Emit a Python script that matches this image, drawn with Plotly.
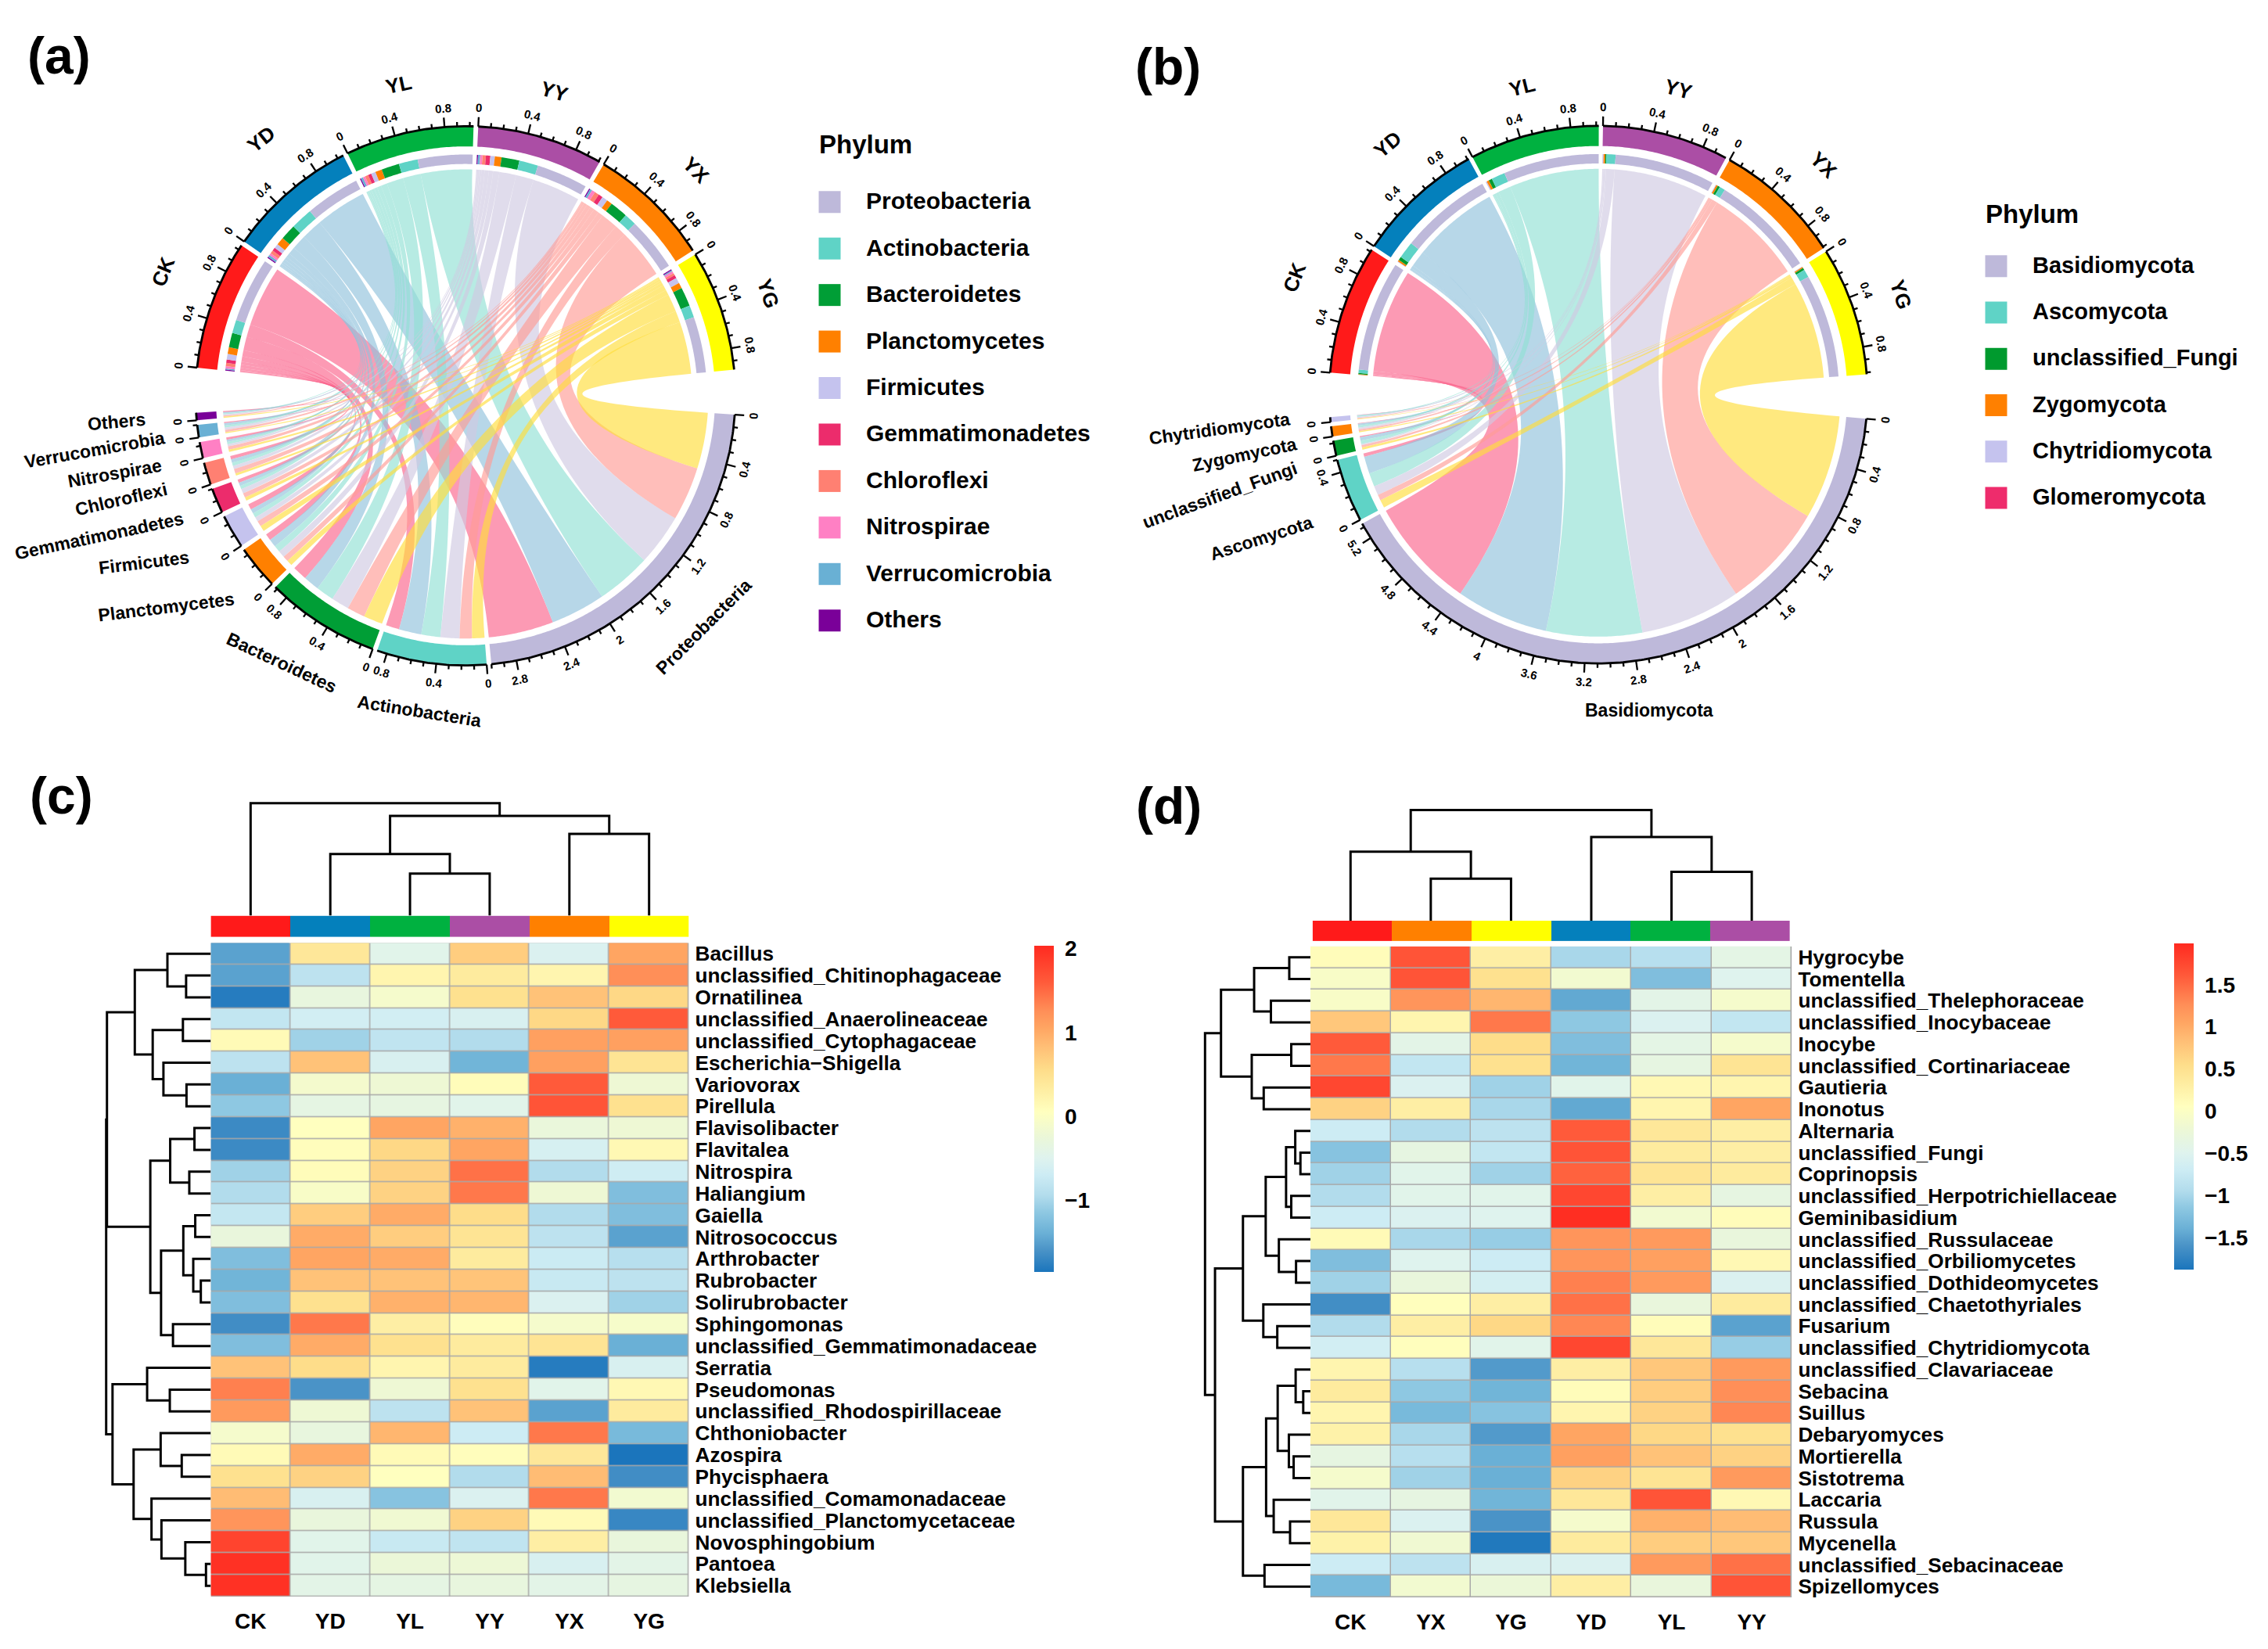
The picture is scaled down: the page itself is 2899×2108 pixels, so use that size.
import math
import plotly.graph_objects as go

W, H = 2899, 2108
FONT = "Liberation Sans"

# ---------- chord data ----------
SAMPLES = ["CK", "YD", "YL", "YY", "YX", "YG"]
SAMPLE_COLORS = ["#FF1A1A", "#0480BC", "#00B140", "#AB4EA5", "#FF8000", "#FFFF00"]
LINK_COLORS = ["rgba(250,100,140,.65)", "rgba(144,193,220,.65)", "rgba(144,224,212,.65)",
               "rgba(207,201,226,.65)", "rgba(255,155,149,.65)", "rgba(255,221,58,.65)"]

PHYLA_A = ["Proteobacteria", "Actinobacteria", "Bacteroidetes", "Planctomycetes", "Firmicutes",
           "Gemmatimonadetes", "Chloroflexi", "Nitrospirae", "Verrucomicrobia", "Others"]
PHYLA_A_COLORS = ["#BEB9DA", "#5FD3C6", "#009E36", "#FF8000", "#C5C3EE",
                  "#EC2C6C", "#FF8072", "#FF80C4", "#69B0D4", "#7A0099"]
A_CK = [.58, .12, .13, .06, .05, .03, .03, .02, .01, .01]
A_YD = [.49, .20, .14, .07, .04, .03, .03, .02, .02, .01]
A_YL = [.49, .17, .16, .06, .04, .03, .03, .02, .02, .01]
A_YY = [.46, .17, .16, .06, .04, .04, .03, .02, .02, .01]
A_YX = [.48, .11, .16, .05, .05, .04, .04, .03, .02, .01]
A_YG = [.50, .11, .17, .05, .05, .03, .02, .02, .01, .01]

PHYLA_B = ["Basidiomycota", "Ascomycota", "unclassified_Fungi", "Zygomycota", "Chytridiomycota"]
PHYLA_B_COLORS = ["#BEB9DA", "#5FD3C6", "#009A2E", "#FF8000", "#C5C3EE"]
LEGEND_B = PHYLA_B + ["Glomeromycota"]
LEGEND_B_COLORS = PHYLA_B_COLORS + ["#EE2C6C"]
B_CK = [.97, .03, .01, .005, .003]
B_YD = [.81, .15, .03, .015, .005]
B_YL = [.84, .12, .03, .02, .01]
B_YY = [.88, .08, .01, .015, .01]
B_YX = [.92, .05, .02, .015, .006]
B_YG = [.91, .07, .02, .01, .005]

# ---------- heatmap data ----------
ROWS_C = ["Bacillus", "unclassified_Chitinophagaceae", "Ornatilinea", "unclassified_Anaerolineaceae",
          "unclassified_Cytophagaceae", "Escherichia\u2212Shigella", "Variovorax", "Pirellula", "Flavisolibacter",
          "Flavitalea", "Nitrospira", "Haliangium", "Gaiella", "Nitrosococcus", "Arthrobacter", "Rubrobacter",
          "Solirubrobacter", "Sphingomonas", "unclassified_Gemmatimonadaceae", "Serratia", "Pseudomonas",
          "unclassified_Rhodospirillaceae", "Chthoniobacter", "Azospira", "Phycisphaera",
          "unclassified_Comamonadaceae", "unclassified_Planctomycetaceae", "Novosphingobium", "Pantoea", "Klebsiella"]
COLS_C = ["CK", "YD", "YL", "YY", "YX", "YG"]
Z_C = [
    [-1.5, .4, -.45, .7, -.55, 1.05],
    [-1.5, -.85, .2, .35, .2, 1.25],
    [-1.8, -.32, -.1, .5, .8, .6],
    [-.8, -.65, -.65, -.58, .6, 1.6],
    [.12, -1.05, -.82, -.95, 1.1, 1.1],
    [-.85, .8, -.58, -1.35, 1.1, .45],
    [-1.4, -.12, -.2, .1, 1.6, -.2],
    [-1.15, -.38, -.35, -.45, 1.65, .5],
    [-1.68, .05, 1.05, .95, -.28, -.2],
    [-1.68, .08, .6, 1.05, -.6, .15],
    [-1.05, .1, .65, 1.45, -.95, -.68],
    [-.95, -.05, .65, 1.4, -.2, -1.25],
    [-.78, .7, 1.0, .55, -.95, -1.25],
    [-.3, 1.0, .7, .45, -.85, -1.5],
    [-1.25, 1.05, 1.0, .35, -.72, -.9],
    [-1.35, .8, .8, .78, -.75, -.85],
    [-1.25, .5, .95, .9, -.55, -1.05],
    [-1.65, 1.4, .3, .08, -.1, -.08],
    [-1.25, 1.0, .5, .35, .45, -1.4],
    [.8, .55, .2, .35, -1.8, -.58],
    [1.35, -1.6, -.2, .5, -.45, .15],
    [1.15, -.2, -.85, .8, -1.5, .35],
    [-.1, -.32, .9, -.7, 1.4, -1.3],
    [.12, 1.0, .12, .08, .4, -1.86],
    [.5, .65, .05, -.95, .85, -1.65],
    [.85, -.58, -1.2, -.55, 1.4, -.15],
    [1.2, -.3, -.18, .65, .12, -1.7],
    [1.8, -.45, -.75, -.82, .3, -.3],
    [1.97, -.45, -.25, -.22, -.58, -.42],
    [1.97, -.42, -.38, -.32, -.42, -.35],
]
ROWS_D = ["Hygrocybe", "Tomentella", "unclassified_Thelephoraceae", "unclassified_Inocybaceae", "Inocybe",
          "unclassified_Cortinariaceae", "Gautieria", "Inonotus", "Alternaria", "unclassified_Fungi", "Coprinopsis",
          "unclassified_Herpotrichiellaceae", "Geminibasidium", "unclassified_Russulaceae",
          "unclassified_Orbiliomycetes", "unclassified_Dothideomycetes", "unclassified_Chaetothyriales", "Fusarium",
          "unclassified_Chytridiomycota", "unclassified_Clavariaceae", "Sebacina", "Suillus", "Debaryomyces",
          "Mortierella", "Sistotrema", "Laccaria", "Russula", "Mycenella", "unclassified_Sebacinaceae", "Spizellomyces"]
COLS_D = ["CK", "YX", "YG", "YD", "YL", "YY"]
Z_D = [
    [.1, 1.65, .3, -1.0, -.9, -.4],
    [-.05, 1.65, .5, -.15, -1.25, -.5],
    [-.05, 1.2, .9, -1.45, -.42, -.1],
    [.75, .2, 1.4, -1.15, -.55, -.8],
    [1.6, -.42, .55, -1.25, -.4, -.1],
    [1.4, -.8, .5, -1.35, -.35, .45],
    [1.75, -.55, -1.05, -.45, .15, .2],
    [.65, .3, -1.0, -1.45, .2, 1.05],
    [-.7, -.95, -.85, 1.6, .4, .3],
    [-1.2, -.35, -.8, 1.65, .35, .3],
    [-1.05, -.45, -1.05, 1.55, .45, .35],
    [-.95, -.45, -.45, 1.75, .3, -.35],
    [-.7, -.55, -.5, 1.95, -.15, .1],
    [.12, -1.0, -1.1, 1.2, 1.15, -.3],
    [-1.25, -.5, -.7, 1.2, 1.1, .15],
    [-1.05, -.3, -.62, 1.35, 1.15, -.55],
    [-1.65, .07, .3, 1.45, -.3, .35],
    [-.95, .3, .6, 1.3, .1, -1.5],
    [-.65, .07, -.45, 1.75, .4, -1.1],
    [.2, -.9, -1.55, .3, .75, 1.15],
    [.35, -1.15, -1.35, .1, .7, 1.25],
    [.2, -1.3, -1.2, .2, .65, 1.3],
    [.25, -1.0, -1.55, 1.05, .6, .5],
    [-.35, -.9, -1.4, 1.1, .8, .65],
    [-.1, -1.05, -1.4, .65, .45, 1.15],
    [-.45, -.35, -1.35, .4, 1.65, .15],
    [.4, -.55, -1.6, -.1, .95, .85],
    [.25, -.18, -1.85, .35, .7, .75],
    [-.7, -.85, -.58, -.55, 1.15, 1.45],
    [-1.3, -.15, -.25, .3, -.3, 1.65],
]
# dendrograms: (merge height, left, right); ints are leaf positions
TREE_C_COL = (403, 0, (358, (221, 1, (151, 2, 3)), (293, 4, 5)))
TREE_D_COL = (411, (256, 0, (156, 1, 2)), (311, 3, (181, 4, 5)))
TREE_C_ROW = (263,
    (261,
     (191, (109, 0, (62, 1, 2)), (146, (70, 3, 4), (119, 5, (61, 6, 7)))),
     (152, (102, (41, 8, 9), (54, 10, 11)),
      (125, (69, (39, 12, 13), (44, 14, (25, 15, 16))), (95, 17, 18)))),
    (247, (160, 19, (103, 20, 21)),
     (194, (126, 22, (73, 23, 24)), (149, 25, (124, 26, (64, 27, (12, 28, 29)))))))
TREE_D_ROW = (264,
    (224, (141, (53, 0, 1), (99, 2, 3)), (147, (48, 4, 5), (117, 6, 7))),
    (239,
     (169, (112, (61, (38, 8, (25, 9, 10)), (48, 11, 12)), (79, 13, (36, 14, 15))), (118, 16, (83, 17, 18))),
     (169, (111, (82, (37, 19, (18, 20, 21)), (54, 22, (42, 23, 24))), (92, 25, (51, 26, 27))), (115, 28, 29))))

COLOR_STOPS = [(2.03, "#FF2A20"), (1.6, "#FF5A3A"), (1.25, "#FF8F58"), (1.05, "#FFA562"), (.85, "#FFBC74"),
               (.55, "#FEDD8A"), (.35, "#FEEB9E"), (.05, "#FFFFBF"), (-.25, "#EBF7D8"), (-.5, "#DFF3EE"),
               (-.7, "#CDECF4"), (-.95, "#B2DCEC"), (-1.15, "#8EC8E2"), (-1.4, "#6AB0D6"), (-1.6, "#4A93C7"),
               (-1.89, "#1B75BC")]

# label placement for the sample names round the chord diagrams
SAMPLE_LABEL_SHIFT = [-2.4, -2.5, 0, 0, -1.4, 0]
SAMPLE_LABEL_RADIUS = [1.21, 1.215, 1.18, 1.175, 1.195, 1.185]

fig = go.Figure()
annots, shapes, layout_axes = [], [], {}
axis_n = [0]


def new_axes(x0, x1, y0, y1, xrange, yrange, xextra=None, yextra=None):
    """Axes pair occupying the given page pixels."""
    axis_n[0] += 1
    n = axis_n[0]
    s = "" if n == 1 else str(n)
    xa = dict(domain=[x0 / W, x1 / W], range=xrange, visible=False, anchor="y" + s, fixedrange=True,
              showgrid=False, zeroline=False)
    ya = dict(domain=[1 - y1 / H, 1 - y0 / H], range=yrange, visible=False, anchor="x" + s, fixedrange=True,
              showgrid=False, zeroline=False)
    if xextra:
        xa.update(xextra)
    if yextra:
        ya.update(yextra)
    layout_axes["xaxis" + s] = xa
    layout_axes["yaxis" + s] = ya
    return "x" + s, "y" + s


def text(x, y, s, size, rot=0, xref="paper", yref="paper", xanchor="center", weight="bold", color="black"):
    if xref == "paper":
        x, y = x / W, 1 - y / H
    annots.append(dict(x=x, y=y, xref=xref, yref=yref, text=s, showarrow=False, textangle=rot,
                       xanchor=xanchor, yanchor="middle",
                       font=dict(family=FONT, size=size, color=color, weight=weight)))


def pol(r, deg):
    a = math.radians(deg)
    return r * math.cos(a), r * math.sin(a)


def annulus(r0, r1, a0, a1, color, xa, ya):
    n = max(3, int(abs(a1 - a0) * 2))
    pts = [pol(r1, a0 + (a1 - a0) * i / n) for i in range(n + 1)]
    pts += [pol(r0, a1 + (a0 - a1) * i / n) for i in range(n + 1)]
    xs, ys = zip(*pts)
    fig.add_trace(go.Scatter(x=list(xs) + [xs[0]], y=list(ys) + [ys[0]], fill="toself", fillcolor=color, mode="none",
                             hoverinfo="skip", showlegend=False, xaxis=xa, yaxis=ya))


def ribbon(r_s, a0, a1, r_p, b0, b1, color, xa, ya):
    """a0->a1 clockwise on the sample side; b0->b1 clockwise on the phylum side; control point at the centre."""
    pts = []

    def arc(r, p, q):
        n = max(2, int(abs(q - p) * 2))
        pts.extend(pol(r, p + (q - p) * i / n) for i in range(n + 1))

    def bez(P, Q):
        for i in range(1, 40):
            t = i / 40
            pts.append(((1 - t) ** 2 * P[0] + t * t * Q[0], (1 - t) ** 2 * P[1] + t * t * Q[1]))

    arc(r_s, a0, a1)
    bez(pol(r_s, a1), pol(r_p, b0))
    arc(r_p, b0, b1)
    bez(pol(r_p, b1), pol(r_s, a0))
    xs, ys = zip(*pts)
    fig.add_trace(go.Scatter(x=list(xs) + [xs[0]], y=list(ys) + [ys[0]], fill="toself", fillcolor=color, mode="none",
                             hoverinfo="skip", showlegend=False, xaxis=xa, yaxis=ya))


def tick_rot(deg):
    d = (deg + 180) % 360 - 180
    return 90 - d if d >= 0 else -90 - d


def chord(cx, cy, R, matrix, phyla, phyla_colors, start, big_gap, gap, phylum_labels):
    ext = 1.4
    xa, ya = new_axes(cx - ext * R, cx + ext * R, cy - ext * R, cy + ext * R, [-ext, ext], [-ext, ext])
    s_tot = [sum(r) for r in matrix]
    p_tot = [sum(r[j] for r in matrix) for j in range(len(phyla))]
    n_gaps = len(s_tot) - 1 + len(p_tot) - 1
    per = (360 - 2 * big_gap - n_gaps * gap) / (sum(s_tot) + sum(p_tot))
    # sector start angles, clockwise
    s_start, p_start = [], []
    a = start
    for v in s_tot:
        s_start.append(a)
        a -= v * per + gap
    a += gap - big_gap
    for v in p_tot:
        p_start.append(a)
        a -= v * per + gap

    # phylum side: samples in reverse order, clockwise
    link_pos = {}
    for j in range(len(phyla)):
        q = p_start[j]
        for i in reversed(range(len(s_tot))):
            link_pos[(i, j)] = (q, q - matrix[i][j] * per)
            q -= matrix[i][j] * per
    for i in range(len(s_tot)):
        q = s_start[i]
        for j in reversed(range(len(phyla))):
            v = matrix[i][j] * per
            annulus(.86, .895, q, q - v, phyla_colors[j], xa, ya)
            b0, b1 = link_pos[(i, j)]
            ribbon(.84, q, q - v, .9, b0, b1, LINK_COLORS[i], xa, ya)
            q -= v

    # outer bands, axes, ticks
    lx, ly, tx, ty = [], [], [], []
    sectors = [(s_start[i], s_tot[i], SAMPLE_COLORS[i]) for i in range(len(s_tot))] + \
              [(p_start[j], p_tot[j], phyla_colors[j]) for j in range(len(phyla))]
    for st, tot, col in sectors:
        en = st - tot * per
        annulus(.925, 1.0, st, en, col, xa, ya)
        n = max(3, int(abs(en - st) * 2))
        for i in range(n + 1):
            x, y = pol(1.0, st + (en - st) * i / n)
            lx.append(x)
            ly.append(y)
        lx.append(None)
        ly.append(None)
        k = 0
        while k * .1 <= tot + 1e-9:
            deg = st - k * .1 * per
            major = k % 4 == 0
            x0, y0 = pol(1.0, deg)
            x1, y1 = pol(1.035 if major else 1.016, deg)
            tx += [x0, x1, None]
            ty += [y0, y1, None]
            if major:
                lab = "0" if k == 0 else f"{k * .1:.1f}".rstrip("0").rstrip(".")
                px, py = pol(1.07, deg)
                text(px, py, lab, 15, tick_rot(deg), xa, ya)
            k += 1
    fig.add_trace(go.Scatter(x=lx, y=ly, mode="lines", line=dict(color="black", width=2.8), hoverinfo="skip",
                             showlegend=False, xaxis=xa, yaxis=ya))
    fig.add_trace(go.Scatter(x=tx, y=ty, mode="lines", line=dict(color="black", width=2.3), hoverinfo="skip",
                             showlegend=False, xaxis=xa, yaxis=ya))
    # sample labels
    for i, name in enumerate(SAMPLES):
        deg = s_start[i] - s_tot[i] * per / 2 + SAMPLE_LABEL_SHIFT[i]
        px, py = pol(SAMPLE_LABEL_RADIUS[i], deg)
        text(px, py, name, 26, tick_rot(deg), xa, ya)
    for name, x, y, rot in phylum_labels:
        text(x, y, name, 23, rot)


def legend(x_sw, y0, dy, x_text, title_y, names, colors, title_size, size):
    xa, ya = new_axes(0, W, 0, H, [0, W], [H, 0])
    fig.add_trace(go.Scatter(x=[x_sw] * len(names), y=[y0 + dy * i for i in range(len(names))], mode="markers",
                             marker=dict(symbol="square", size=28, color=colors, line=dict(width=0)),
                             hoverinfo="skip", showlegend=False, xaxis=xa, yaxis=ya))
    text(x_sw - 16, title_y, "Phylum", title_size, xanchor="left")
    for i, n in enumerate(names):
        text(x_text, y0 + dy * i - 1.5, n, size, xanchor="left")


def tree_segments(node):
    """Returns centre, height and segment list of a dendrogram node."""
    if isinstance(node, int):
        return float(node), 0.0, []
    h, l, r = node
    cl, hl, sl = tree_segments(l)
    cr, hr, sr = tree_segments(r)
    seg = sl + sr + [((cl, hl), (cl, h), (cr, h), (cr, hr))]
    return (cl + cr) / 2, h, seg


def dendro(tree, xa, ya, horizontal):
    _, _, seg = tree_segments(tree)
    xs, ys = [], []
    for s in seg:
        for pos, h in s:
            xs.append(h if horizontal else pos)
            ys.append(pos if horizontal else h)
        xs.append(None)
        ys.append(None)
    fig.add_trace(go.Scatter(x=xs, y=ys, mode="lines", line=dict(color="black", width=3), cliponaxis=False,
                             hoverinfo="skip", showlegend=False, xaxis=xa, yaxis=ya))


def heat(x0, x1, y0, y1, bar_x0, bar_x1, bar_y0, bar_y1, dendro_top, dendro_left, Z, rows, cols, tree_col, tree_row,
         zmin, zmax, cb_x, cb_bottom, cb_len, cb_ticks, tick_size):
    cs = []
    for v, c in sorted(COLOR_STOPS):
        t = (v - zmin) / (zmax - zmin)
        cs.append([min(1, max(0, t)), c])
    cs[0][0], cs[-1][0] = 0, 1
    n = len(rows)
    m = len(cols)
    xa, ya = new_axes(x0, x1, y0, y1, [-.5, m - .5], [n - .5, -.5],
                      xextra=dict(visible=True, tickmode="array", tickvals=list(range(m)), ticktext=cols,
                                  ticks="", showline=False, ticklabelstandoff=12,
                                  tickfont=dict(family=FONT, size=28, color="black", weight="bold")),
                      yextra=dict(visible=True, side="right", tickmode="array", tickvals=list(range(n)), ticktext=rows,
                                  ticks="", showline=False, ticklabelstandoff=7,
                                  tickfont=dict(family=FONT, size=26.2, color="black", weight="bold")))
    shapes.append(dict(type="rect", xref=xa, yref=ya, x0=-.5, x1=m - .5, y0=-.5, y1=n - .5, layer="below",
                       fillcolor="#A9A9A9", line=dict(width=0)))
    fig.add_trace(go.Heatmap(z=Z, x=list(range(m)), y=list(range(n)), zmin=zmin, zmax=zmax, colorscale=cs, xgap=1.5,
                             ygap=1.5, hoverinfo="skip",
                             colorbar=dict(x=cb_x / W, xanchor="left", y=1 - cb_bottom / H, yanchor="bottom",
                                           lenmode="pixels", len=cb_len, thickness=25, thicknessmode="pixels",
                                           xpad=0, ypad=0, outlinewidth=0, ticks="outside", ticklen=9,
                                           tickcolor="rgba(0,0,0,0)", tickmode="array", tickvals=cb_ticks,
                                           tickfont=dict(family=FONT, size=tick_size, color="black", weight="bold")),
                             xaxis=xa, yaxis=ya))
    # annotation colour bar
    xb, yb = new_axes(bar_x0, bar_x1, bar_y0, bar_y1, [-.5, m - .5], [-.5, .5])
    idx = [SAMPLES.index(c) for c in cols]
    disc = []
    for k, c in enumerate(SAMPLE_COLORS):
        disc += [[k / 6, c], [(k + 1) / 6, c]]
    fig.add_trace(go.Heatmap(z=[idx], x=list(range(m)), y=[0], zmin=-.5, zmax=5.5, colorscale=disc, showscale=False,
                             hoverinfo="skip", xaxis=xb, yaxis=yb))
    # column dendrogram (a few spare pixels keep the root line from being clipped)
    pad = 6
    span = bar_y0 - dendro_top
    xt, yt = new_axes(x0, x1, dendro_top - pad, bar_y0, [-.5, m - .5], [0, tree_col[0] * (1 + pad / span)])
    dendro(tree_col, xt, yt, False)
    # row dendrogram
    span = x0 - dendro_left
    xl, yl = new_axes(dendro_left - pad, x0, y0, y1, [tree_row[0] * (1 + pad / span), 0], [n - .5, -.5])
    dendro(tree_row, xl, yl, True)


# ---------- panel a ----------
labels_a = [("Others", 148.7, 539, -5), ("Verrucomicrobia", 120.6, 574.5, -10), ("Nitrospirae", 146, 605, -10),
            ("Chloroflexi", 155.4, 638, -13), ("Gemmatimonadetes", 127, 685, -12), ("Firmicutes", 184, 719, -7),
            ("Planctomycetes", 212, 776, -7), ("Bacteroidetes", 360, 847, 25), ("Actinobacteria", 536, 909, 9),
            ("Proteobacteria", 899.5, 801, -45)]
chord(595, 505.5, 345, [A_CK, A_YD, A_YL, A_YY, A_YX, A_YG], PHYLA_A, PHYLA_A_COLORS, 174, 9.6, 1.0, labels_a)
legend(1060.5, 257.5, 59.5, 1104.5, 184, PHYLA_A, PHYLA_A_COLORS, 33, 30)

# ---------- panel b ----------
labels_b = [("Chytridiomycota", 1558.6, 547.7, -8), ("Zygomycota", 1590.8, 581, -12),
            ("unclassified_Fungi", 1558.6, 632.7, -20), ("Ascomycota", 1612, 688, -18),
            ("Basidiomycota", 2108, 908, 0)]
chord(2043, 504, 344, [B_CK, B_YD, B_YL, B_YY, B_YX, B_YG], PHYLA_B, PHYLA_B_COLORS, 175.3, 9.5, .9, labels_b)
legend(2551.5, 339.6, 59.3, 2595.5, 273, LEGEND_B, LEGEND_B_COLORS, 33, 29)

# ---------- panels c, d ----------
heat(269.4, 880.6, 1205.4, 2042, 269.4, 880.6, 1170.7, 1198.2, 1026.8, 135.7, Z_C, ROWS_C, COLS_C, TREE_C_COL, TREE_C_ROW,
     -1.86, 2.03, 1321.7, 1627, 417, [-1, 0, 1, 2], 28)
heat(1675, 2290.4, 1210, 2043, 1677.7, 2287.9, 1177, 1203.5, 1035.5, 1540.3, Z_D, ROWS_D, COLS_D, TREE_D_COL, TREE_D_ROW,
     -1.886, 1.985, 2779, 1624, 417, [-1.5, -1, -.5, 0, .5, 1, 1.5], 28)

for tag, x, y in [("(a)", 75, 70), ("(b)", 1493, 84), ("(c)", 78, 1017), ("(d)", 1494, 1030)]:
    text(x, y, tag, 66)

fig.update_layout(width=W, height=H, margin=dict(l=0, r=0, t=0, b=0), autosize=False, showlegend=False,
                  paper_bgcolor="white", plot_bgcolor="rgba(0,0,0,0)", annotations=annots, shapes=shapes,
                  **layout_axes)
fig.write_html("out.html", config={"displayModeBar": False},
               post_script="document.body.style.margin='0';document.body.style.overflow='hidden';")
